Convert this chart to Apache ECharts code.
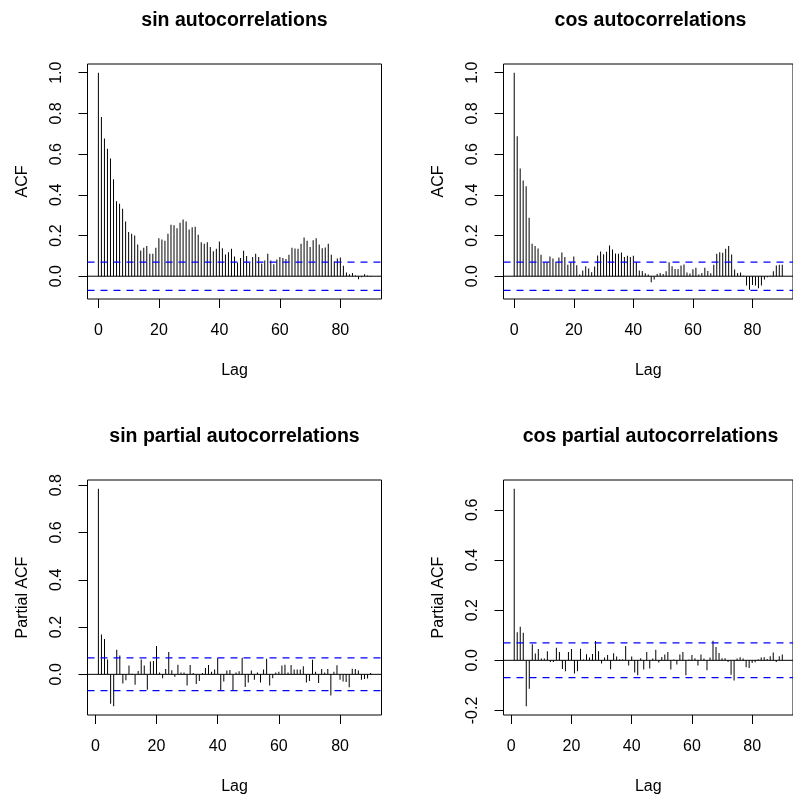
<!DOCTYPE html>
<html>
<head>
<meta charset="utf-8">
<script src="https://cdn.jsdelivr.net/npm/echarts@6/dist/echarts.min.js"></script>
<style>
  html, body { margin: 0; padding: 0; background: #fff; }
  #chart { width: 793px; height: 796px; }
</style>
</head>
<body>
<div id="chart"></div>
<script>
// acf values, lag 0..90
const sinAcf = [1.0, 0.783, 0.677, 0.627, 0.578, 0.476, 0.368, 0.356, 0.332, 0.269,
  0.217, 0.209, 0.2, 0.156, 0.126, 0.14, 0.149, 0.11, 0.11, 0.14,
  0.187, 0.18, 0.174, 0.209, 0.253, 0.25, 0.236, 0.263, 0.279, 0.269,
  0.23, 0.241, 0.243, 0.204, 0.167, 0.159, 0.167, 0.144, 0.123, 0.135,
  0.171, 0.138, 0.107, 0.118, 0.135, 0.097, 0.066, 0.089, 0.125, 0.099,
  0.066, 0.095, 0.11, 0.095, 0.062, 0.077, 0.11, 0.077, 0.059, 0.082,
  0.095, 0.089, 0.084, 0.105, 0.14, 0.136, 0.135, 0.159, 0.19, 0.174,
  0.144, 0.177, 0.187, 0.156, 0.138, 0.141, 0.159, 0.105, 0.074, 0.087,
  0.092, 0.051, 0.018, 0.01, 0.016, 0.003, -0.015, -0.005, 0.01, 0.003,
  -0.004];
const cosAcf = [1.0, 0.688, 0.529, 0.47, 0.442, 0.287, 0.159, 0.148, 0.136, 0.105,
  0.069, 0.069, 0.097, 0.087, 0.069, 0.092, 0.117, 0.094, 0.056, 0.069,
  0.097, 0.054, 0.008, 0.028, 0.049, 0.038, 0.02, 0.048, 0.102, 0.121,
  0.108, 0.12, 0.151, 0.131, 0.112, 0.11, 0.117, 0.095, 0.1, 0.094,
  0.1, 0.069, 0.028, 0.026, 0.015, 0.008, -0.03, -0.016, 0.011, 0.016,
  0.011, 0.025, 0.069, 0.049, 0.036, 0.036, 0.053, 0.057, 0.018, 0.013,
  0.034, 0.041, 0.008, 0.016, 0.041, 0.026, 0.015, 0.056, 0.11, 0.118,
  0.115, 0.135, 0.148, 0.107, 0.033, 0.016, 0.018, 0.002, -0.046, -0.067,
  -0.043, -0.046, -0.059, -0.046, -0.016, -0.005, 0.002, 0.025, 0.053, 0.056,
  0.056];
// pacf values, lag 1..90
const sinPacf = [0.785, 0.168, 0.149, 0.063, -0.124, -0.135, 0.104, 0.08, -0.039, -0.025,
  0.037, 0.003, -0.044, 0.014, 0.063, 0.037, -0.065, 0.054, 0.056, 0.12,
  0.008, -0.017, 0.023, 0.094, 0.017, -0.01, 0.041, 0.008, 0.008, -0.047,
  0.039, 0.006, -0.041, -0.028, 0.006, 0.027, 0.039, 0.011, 0.02, 0.069,
  -0.07, -0.03, 0.016, 0.018, -0.069, 0.008, 0.013, 0.07, -0.054, -0.035,
  0.016, -0.023, 0.008, -0.035, 0.02, 0.066, -0.047, -0.017, 0.008, 0.011,
  0.037, 0.041, 0.008, 0.039, 0.02, 0.02, 0.02, 0.034, -0.035, -0.028,
  0.062, 0.011, -0.037, 0.023, 0.008, 0.023, -0.09, 0.011, 0.038, -0.023,
  -0.03, -0.032, -0.055, 0.024, 0.023, 0.016, -0.023, -0.02, -0.018, 0.006];
const cosPacf = [0.684, 0.112, 0.134, 0.11, -0.183, -0.113, 0.064, 0.027, 0.045, 0.007,
  0.007, 0.036, -0.007, -0.007, 0.05, 0.033, -0.035, -0.044, 0.033, 0.045,
  -0.053, -0.044, 0.046, 0.003, 0.024, 0.011, 0.025, 0.077, 0.036, -0.013,
  0.011, 0.021, -0.036, 0.028, 0.015, 0.004, 0.004, 0.057, -0.021, 0.015,
  -0.049, -0.06, 0.008, -0.037, 0.033, -0.033, 0.007, 0.042, -0.009, 0.013,
  0.023, 0.033, -0.037, 0.003, -0.017, 0.023, 0.033, -0.06, 0.003, 0.021,
  0.008, -0.021, 0.023, 0.007, -0.04, 0.011, 0.078, 0.053, 0.029, 0.008,
  0.008, -0.007, -0.058, -0.08, 0.007, 0.012, 0.007, -0.028, -0.031, -0.011,
  -0.008, 0.004, 0.011, 0.012, 0.005, 0.016, 0.031, -0.007, 0.016, 0.023];
const ciBound = 0.0693;   // 1.96 / sqrt(n)
const lagTicks = [0, 20, 40, 60, 80];
const acfTicks = [0, 0.2, 0.4, 0.6, 0.8, 1.0];
const sinPacfTicks = [0, 0.2, 0.4, 0.6, 0.8];
const cosPacfTicks = [-0.2, 0, 0.2, 0.4, 0.6];
const titles = ['sin autocorrelations', 'cos autocorrelations',
  'sin partial autocorrelations', 'cos partial autocorrelations'];
const yNames = ['ACF', 'ACF', 'Partial ACF', 'Partial ACF'];

var font = 'Liberation Sans, Arial, Helvetica, sans-serif';

// panel layout + axis ranges (R pads 4% on each side)
var panels = [
  { values: sinAcf, firstLag: 0, left: 87.5, top: 64, xMin: -3.6, xMax: 93.6, yMin: -0.112, yMax: 1.043, yTicks: acfTicks },
  { values: cosAcf, firstLag: 0, left: 503.5, top: 64, xMin: -3.6, xMax: 93.6, yMin: -0.112, yMax: 1.043, yTicks: acfTicks },
  { values: sinPacf, firstLag: 1, left: 87.5, top: 480, xMin: -2.56, xMax: 93.56, yMin: -0.172, yMax: 0.822, yTicks: sinPacfTicks },
  { values: cosPacf, firstLag: 1, left: 503.5, top: 480, xMin: -2.56, xMax: 93.56, yMin: -0.218, yMax: 0.719, yTicks: cosPacfTicks }
];

var myChart = echarts.init(document.getElementById('chart'), null, { renderer: 'canvas' });

var grid = [], xAxis = [], yAxis = [], series = [], title = [];

// horizontal reference line (zero / CI bound) across the whole plot region
function hLine(i, p, value, color, dash) {
  return {
    type: 'line', xAxisIndex: i, yAxisIndex: i,
    symbol: 'none', silent: true, z: 3,
    color: color,
    lineStyle: { color: color, type: dash, width: dash === 'solid' ? 1 : 1.2 },
    data: [[p.xMin, value], [p.xMax, value]]
  };
}

panels.forEach(function (p, i) {
  grid.push({
    left: p.left, top: p.top, width: 294, height: 235,
    show: true, borderColor: '#000', borderWidth: 1, backgroundColor: 'transparent'
  });
  title.push({
    text: titles[i],
    left: p.left + 147, top: p.top - 53, textAlign: 'center', padding: 0,
    textStyle: { fontFamily: font, fontSize: 19.5, fontWeight: 'bold', color: '#000' }
  });
  xAxis.push({
    type: 'value', gridIndex: i, min: p.xMin, max: p.xMax,
    name: 'Lag', nameLocation: 'middle', nameGap: 64,
    nameTextStyle: { fontFamily: font, fontSize: 16, color: '#000', verticalAlign: 'top' },
    axisLine: { show: false, onZero: false },
    axisTick: { show: true, length: 9, customValues: lagTicks, lineStyle: { color: '#000' } },
    axisLabel: { customValues: lagTicks, margin: 24, fontFamily: font, fontSize: 16, color: '#000' },
    splitLine: { show: false }
  });
  yAxis.push({
    type: 'value', gridIndex: i, min: p.yMin, max: p.yMax,
    name: yNames[i], nameLocation: 'middle', nameGap: 57,
    nameTextStyle: { fontFamily: font, fontSize: 16, color: '#000' },
    axisLine: { show: false, onZero: false },
    axisTick: { show: true, length: 9, customValues: p.yTicks, lineStyle: { color: '#000' } },
    axisLabel: {
      customValues: p.yTicks, rotate: 90, margin: 23,
      fontFamily: font, fontSize: 16, color: '#000',
      formatter: function (v) { return v.toFixed(1); }
    },
    splitLine: { show: false }
  });
  series.push({
    type: 'bar', xAxisIndex: i, yAxisIndex: i,
    barWidth: 1,
    itemStyle: { color: '#000' },
    data: p.values.map(function (v, k) { return [k + p.firstLag, v]; })
  });
  series.push(hLine(i, p, 0, '#000', 'solid'));
  series.push(hLine(i, p, ciBound, '#0000ff', [7, 6]));
  series.push(hLine(i, p, -ciBound, '#0000ff', [7, 6]));
});

var option = {
  backgroundColor: '#fff',
  animation: false,
  title: title,
  grid: grid,
  xAxis: xAxis,
  yAxis: yAxis,
  series: series
};
myChart.setOption(option);
</script>
</body>
</html>
